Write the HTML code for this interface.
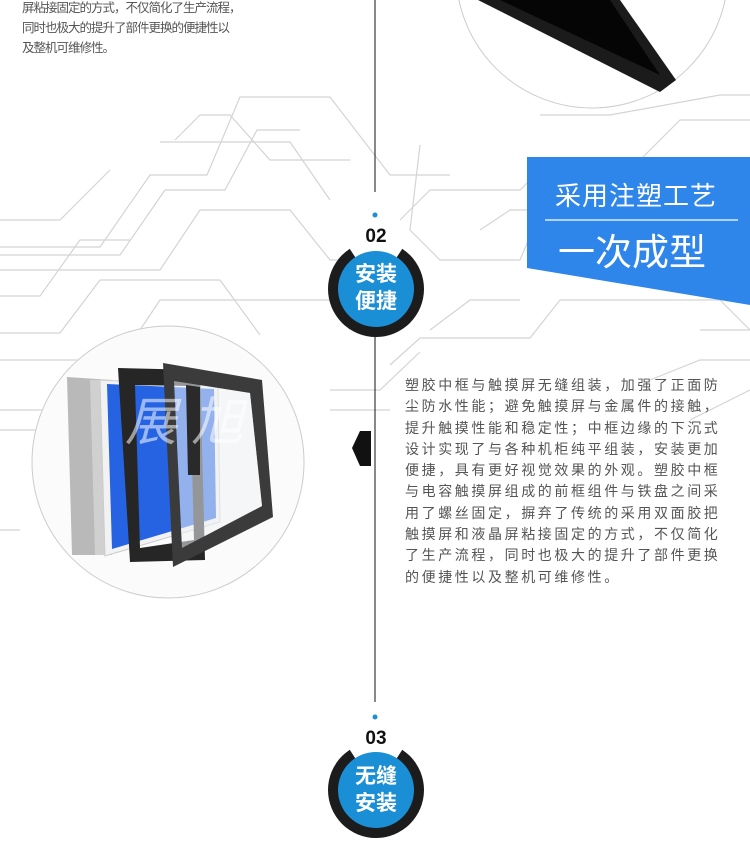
<!DOCTYPE html>
<html><head><meta charset="utf-8"><style>
*{margin:0;padding:0}
body{width:750px;height:860px;position:relative;overflow:hidden;background:#fff;font-family:"Liberation Sans","Noto Sans CJK SC",sans-serif}
.t{position:absolute;color:#555}
.top{left:22px;top:-2px;font-size:12.5px;line-height:20px;letter-spacing:-1px;white-space:nowrap}
.body{left:405px;top:375px;font-size:14px;line-height:21.3px;letter-spacing:2.6px;white-space:nowrap}
.num{position:absolute;left:346px;width:60px;text-align:center;font-size:19px;font-weight:bold;color:#111}
.lbl{position:absolute;left:336px;width:80px;text-align:center;color:#fff;font-size:21px;font-weight:bold;line-height:27px}
.ban{position:absolute;color:#fff;left:555px;white-space:nowrap}
</style></head><body>
<svg width="750" height="860" style="position:absolute;left:0;top:0">
<g fill="none" stroke="#d4d4d4" stroke-width="1.2">
<polyline points="0,247 100,247 150,175 207,175 240,97 330,97 390,175 450,175"/>
<polyline points="0,255 120,255 165,190 225,190 257,130 300,130"/>
<polyline points="0,270 160,270 200,210 290,210 330,260 360,260"/>
<polyline points="0,296 40,296 80,240 130,240"/>
<polyline points="0,333 60,333 100,280 220,280 260,335"/>
<polyline points="0,360 120,360 160,300 330,300 350,330"/>
<polyline points="0,410 80,410 120,360"/>
<polyline points="0,430 40,430"/>
<polyline points="0,530 20,530"/>
<polyline points="175,140 200,115 230,115 270,160 350,160"/>
<polyline points="420,145 410,230 440,260 520,260 560,165 600,160"/>
<polyline points="400,220 430,190 520,190 550,160 640,160 680,120 750,120"/>
<polyline points="480,230 510,210 560,210"/>
<polyline points="540,115 610,115 720,95 750,95"/>
<polyline points="430,330 470,300 520,300"/>
<polyline points="390,365 420,338 530,338 560,300"/>
<polyline points="330,390 380,390 420,352"/>
<polyline points="330,410 390,410"/>
<polyline points="560,300 720,300 750,330"/>
<polyline points="700,330 750,330"/>
<polyline points="650,380 700,360 750,360"/>
<polyline points="690,420 750,390"/>
<polyline points="160,142 290,142 330,200"/>
<polyline points="0,220 60,220 110,170"/>
</g>
<line x1="375" y1="0" x2="375" y2="192" stroke="#111" stroke-width="1"/>
<line x1="375" y1="335" x2="375" y2="702" stroke="#111" stroke-width="1"/>
<circle cx="375" cy="215" r="2.5" fill="#1a8fd6"/>
<circle cx="375" cy="717" r="2.5" fill="#1a8fd6"/>
<circle cx="592" cy="-28" r="136" fill="#fff" stroke="#ccc" stroke-width="1"/>
<polygon points="478,0 620,0 676,80 660,92" fill="#1b1b1b"/>
<polygon points="500,0 610,0 660,75" fill="#050505"/>
<polygon points="527,157 750,157 750,305 527,268" fill="#2f86ea"/>
<line x1="545" y1="220" x2="738" y2="220" stroke="#fff" stroke-width="1.2"/>
<circle cx="168" cy="462" r="136" fill="#fbfbfb" stroke="#ccc" stroke-width="1"/>
<!-- chassis -->
<polygon points="67,377 112,380 112,555 72,555" fill="#b9b9b9"/>
<polygon points="90,380 112,380 112,555 95,555" fill="#d0d0d0"/>
<!-- white bezel + blue -->
<polygon points="100,380 218,386 220,522 105,556" fill="#f2f2f2" stroke="#ccc"/>
<polygon points="107,384 214,389 216,518 112,549" fill="#2563e3"/>
<!-- black frame -->
<path fill-rule="evenodd" fill="#262626" d="M118,368 L200,370 L205,560 L130,562 Z M135,385 L190,386 L194,540 L140,548 Z"/>
<!-- glass frame -->
<path fill-rule="evenodd" fill="#3b3b3b" d="M163,363 L262,380 L273,517 L173,567 Z M174,381 L250,393 L262,506 L182,548 Z"/>
<polygon points="174,381 250,393 262,506 182,548" fill="#eef2f5" fill-opacity="0.55"/>
<polygon points="186,385 200,387 200,475 188,475" fill="#2a2a2a"/>
<polygon points="352,448 360,431 371,431 371,466 360,466" fill="#111"/>
<g>
<circle cx="376" cy="289" r="48" fill="#1c1c1c"/>
<polygon points="376,289 344,240 408,240" fill="#fff"/>
<circle cx="376" cy="289" r="38" fill="#1a8fd6"/>
<circle cx="376" cy="790" r="48" fill="#1c1c1c"/>
<polygon points="376,790 344,741 408,741" fill="#fff"/>
<circle cx="376" cy="790" r="38" fill="#1a8fd6"/>
</g>
</svg>
<div class="t top">屏粘接固定的方式，不仅简化了生产流程，<br>同时也极大的提升了部件更换的便捷性以<br>及整机可维修性。</div>
<div class="ban" style="top:176px;font-size:26px;letter-spacing:1px">采用注塑工艺</div>
<div class="ban" style="top:222px;font-size:37px;left:558px">一次成型</div>
<div style="position:absolute;left:125px;top:380px;font-size:52px;color:rgba(255,255,255,0.55);font-style:italic">展 旭</div>
<div class="num" style="top:226px">02</div>
<div class="lbl" style="top:261px">安装<br>便捷</div>
<div class="num" style="top:728px">03</div>
<div class="lbl" style="top:763px">无缝<br>安装</div>
<div class="t body">塑胶中框与触摸屏无缝组装，加强了正面防<br>尘防水性能；避免触摸屏与金属件的接触，<br>提升触摸性能和稳定性；中框边缘的下沉式<br>设计实现了与各种机柜纯平组装，安装更加<br>便捷，具有更好视觉效果的外观。塑胶中框<br>与电容触摸屏组成的前框组件与铁盘之间采<br>用了螺丝固定，摒弃了传统的采用双面胶把<br>触摸屏和液晶屏粘接固定的方式，不仅简化<br>了生产流程，同时也极大的提升了部件更换<br>的便捷性以及整机可维修性。</div>
</body></html>
